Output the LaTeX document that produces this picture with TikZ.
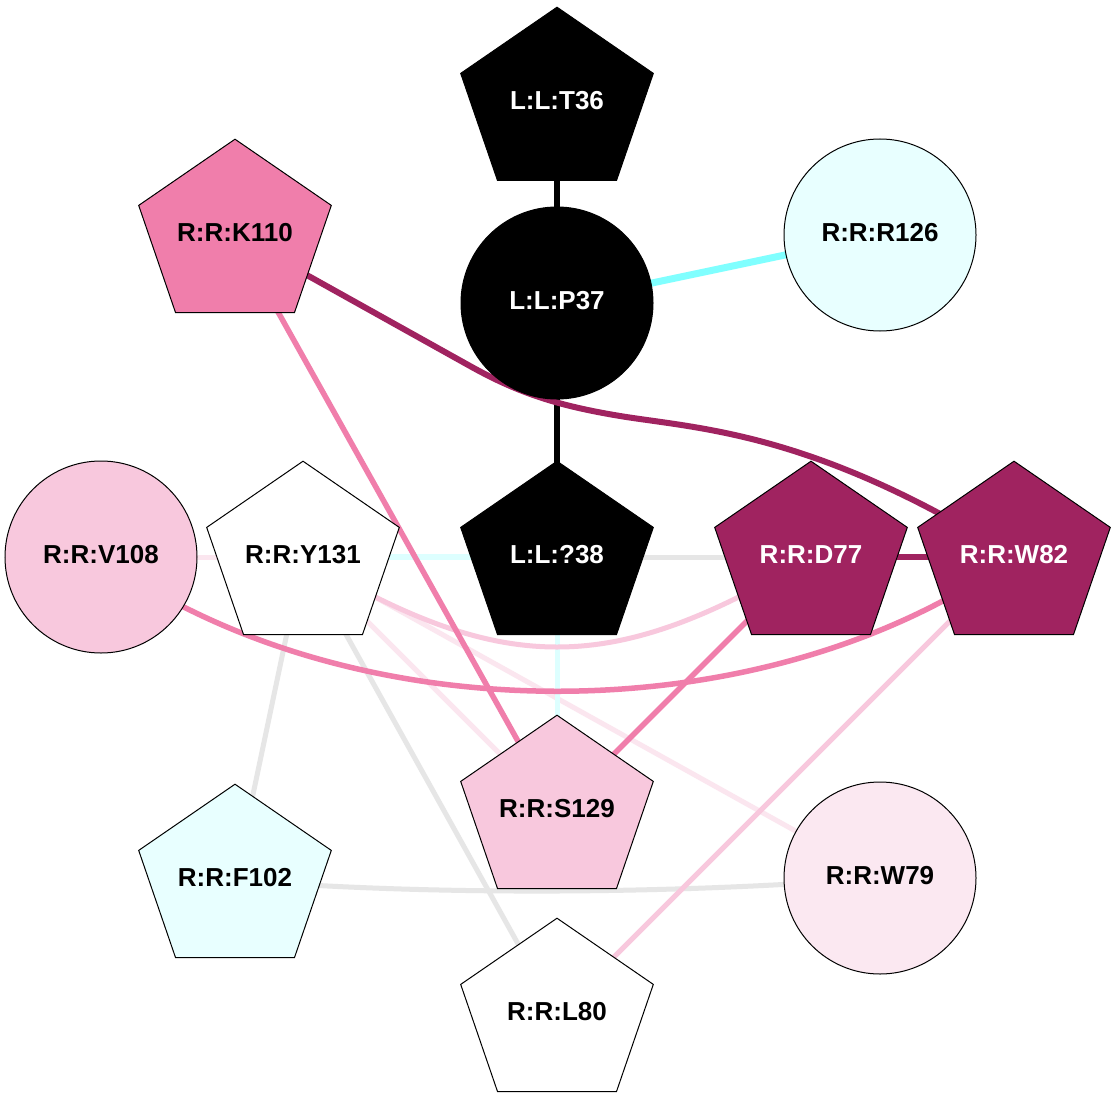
\documentclass[tikz,border=0pt]{standalone}
\usepackage{fontspec}
\setmainfont{Liberation Sans}
\pgfdeclarelayer{bg}
\pgfsetlayers{bg,main}
\definecolor{mag}{HTML}{A02360}
\definecolor{pinkm}{HTML}{F07EAB}
\definecolor{pinkl}{HTML}{F8C8DD}
\definecolor{pinkxl}{HTML}{FBE8F1}
\definecolor{cyanl}{HTML}{E8FFFF}
\definecolor{cyanm}{HTML}{80FFFF}
\definecolor{cyanedge}{HTML}{DDFFFF}
\definecolor{grayedge}{HTML}{E6E6E6}
\definecolor{pinkedgexl}{HTML}{FBE6EF}
\tikzset{
  lbl/.style={font=\fontsize{26}{30}\selectfont\bfseries, text height=18.6pt, text depth=6pt, inner sep=0pt},
  circnode/.style={lbl, circle, draw=black, line width=1pt, minimum size=192pt},
  pentshape/.style={draw=black, line width=1pt},
  strong/.style={line width=6pt},
  medium/.style={line width=5.5pt},
  light/.style={line width=5pt}
}
% name, x, y, fill, text colour, label
\newcommand{\pentnode}[6]{%
  \filldraw[pentshape, fill=#4, shift={(#2,#3)}]
    (0,-95.8) -- (96.3,-29.6) -- (59.5,77.5) -- (-59.5,77.5) -- (-96.3,-29.6) -- cycle;
  \node[lbl, text=#5] (#1) at (#2,#3) {#6};
}
\begin{document}
\begin{tikzpicture}[x=1pt,y=-1pt]
\useasboundingbox (0,0) rectangle (1115,1115);

% nodes
\pentnode{T36}{557}{103}{black}{white}{L:L:T36}
\node[circnode, fill=black, text=white] (P37) at (557,303) {L:L:P37};
\node[circnode, fill=cyanl] (R126) at (880,235) {R:R:R126};
\pentnode{K110}{235}{235}{pinkm}{black}{R:R:K110}
\node[circnode, fill=pinkl] (V108) at (101,557) {R:R:V108};
\pentnode{Y131}{303}{557}{white}{black}{R:R:Y131}
\pentnode{Q38}{557}{557}{black}{white}{L:L:?38}
\pentnode{D77}{811}{557}{mag}{white}{R:R:D77}
\pentnode{W82}{1014}{557}{mag}{white}{R:R:W82}
\pentnode{S129}{557}{811}{pinkl}{black}{R:R:S129}
\pentnode{F102}{235}{880}{cyanl}{black}{R:R:F102}
\node[circnode, fill=pinkxl] (W79) at (880,878) {R:R:W79};
\pentnode{L80}{557}{1014}{white}{black}{R:R:L80}

% edges (behind the nodes)
\begin{pgfonlayer}{bg}
\fill[white] (0,0) rectangle (1115,1115);
\draw[light, pinkedgexl] (V108.center) -- (Y131.center);
\draw[light, pinkedgexl] (Y131.center) -- (S129.center);
\draw[light, pinkedgexl] (Y131.center) -- (W79.center);
\draw[light, grayedge] (Y131.center) -- (L80.center);
\draw[light, grayedge] (Y131.center) -- (F102.center);
\draw[light, grayedge] (F102.center) .. controls (435,896) and (680,894) .. (W79.center);
\draw[light, grayedge] (Q38.center) -- (D77.center);
\draw[strong, cyanedge] (Y131.center) -- (Q38.center);
\draw[light, cyanedge] (Q38.center) -- (S129.center);
\draw[light, pinkl] (Y131.center) .. controls (503,677) and (611,677) .. (D77.center);
\draw[light, pinkl] (W82.center) -- (L80.center);
\draw[medium, pinkm] (V108.center) .. controls (351,736) and (764,736) .. (W82.center);
\draw[medium, pinkm] (D77.center) -- (S129.center);
\draw[medium, pinkm] (K110.center) -- (S129.center);
\draw[line width=7pt, cyanm] (P37.center) -- (R126.center);
\draw[line width=5.5pt, black] (T36.center) -- (P37.center);
\draw[line width=5.5pt, black] (P37.center) -- (Q38.center);
\draw[strong, mag] (D77.center) -- (W82.center);
\draw[strong, mag] (K110.center) -- (470,366)
  .. controls (520,394) and (560,406) .. (620,416)
  .. controls (700,429) and (815,432) .. (W82.center);
\end{pgfonlayer}
\end{tikzpicture}
\end{document}
